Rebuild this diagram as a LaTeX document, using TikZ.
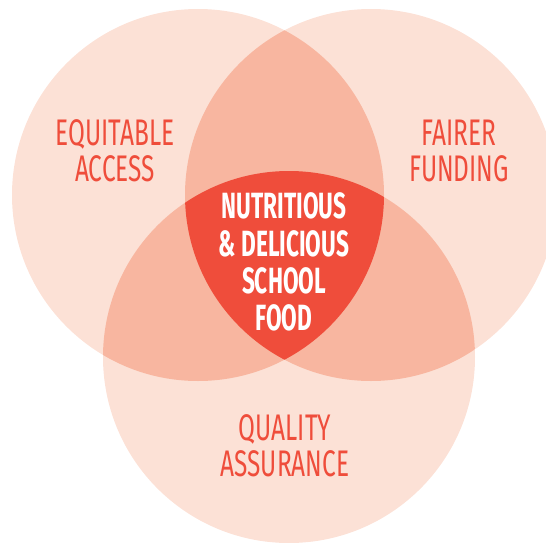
\documentclass[tikz,border=0pt]{standalone}
\usepackage{fontspec}
\newfontfamily\condfont[FakeStretch=0.66]{Fira Sans}
\newfontfamily\corefont[FakeStretch=0.62]{Fira Sans}
\definecolor{venlight}{HTML}{FCE1D6}
\definecolor{venmid}{HTML}{F8B6A0}
\definecolor{venred}{HTML}{EF4D3B}
\begin{document}
\begin{tikzpicture}
  [x=1pt,y=-1pt,every node/.style={align=center,inner sep=0pt}]
  \tikzstyle{side} = [font=\condfont\fontsize{37}{36}\selectfont,text=venred]
  \tikzstyle{core} = [font=\corefont\bfseries\fontsize{36.5}{37.3}\selectfont,text=white]
  \clip (0,0) rectangle (546,543);
  \coordinate (cl) at (198,195);
  \coordinate (cr) at (371,195);
  \coordinate (cb) at (289,357);
  % the three sets
  \foreach \c in {cl,cr,cb}
    \fill[venlight] (\c) circle[radius=186pt];
  % two at a time
  \foreach \a/\b in {cl/cr,cl/cb,cr/cb} {
    \begin{scope}
      \clip (\a) circle[radius=186pt];
      \fill[venmid] (\b) circle[radius=186pt];
    \end{scope}
  }
  % all three
  \begin{scope}
    \clip (cl) circle[radius=186pt];
    \clip (cr) circle[radius=186pt];
    \fill[venred] (cb) circle[radius=186pt];
  \end{scope}
  \node[side] (equit) at (115,151) {EQUITABLE\\ACCESS};
  \node[side] (fair)  at (459,151) {FAIRER\\FUNDING};
  \node[side] (qual)  at (285,446) {QUALITY\\ASSURANCE};
  \node[core] (food)  at (284,262) {NUTRITIOUS\\\&~DELICIOUS\\SCHOOL\\FOOD};
\end{tikzpicture}
\end{document}
